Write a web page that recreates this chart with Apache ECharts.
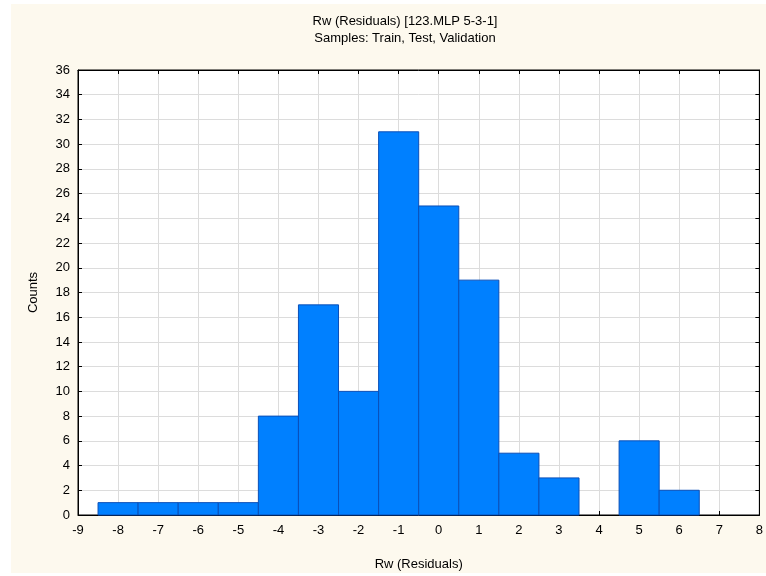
<!DOCTYPE html>
<html><head><meta charset="utf-8">
<script src="https://cdn.jsdelivr.net/npm/echarts@6/dist/echarts.min.js"></script>
<style>html,body{margin:0;padding:0;background:#fff}#c{width:766px;height:576px}</style>
</head><body><div id="c"></div>
<script>
const binCenters = [-8,-7,-6,-5,-4,-3,-2,-1,0,1,2,3,4,5,6,7];
const counts = [1,1,1,1,8,17,10,31,25,19,5,3,0,6,2,0];
const titleLines = ['Rw (Residuals) [123.MLP 5-3-1]', 'Samples: Train, Test, Validation'];
const xName = 'Rw (Residuals)';
const yName = 'Counts';
const binWidth = 1;

const chart = echarts.init(document.getElementById('c'), null, {renderer:'canvas'});
const font = 'Liberation Sans, Arial, sans-serif';
const axisCommon = {
  axisLine:{show:true, onZero:false, lineStyle:{color:'#000', width:1}},
  axisTick:{show:true, inside:true, length:4, lineStyle:{color:'#000'}},
};
chart.setOption({
  animation:false,
  backgroundColor:'#fff',
  graphic:[{type:'rect', z:-10, shape:{x:11,y:4,width:755,height:569}, style:{fill:'#fdf9ee'}}],
  title:{text:titleLines.join('\n'), left:400, textAlign:'center', top:8,
    textStyle:{fontFamily:font, fontSize:13, fontWeight:'normal', color:'#000', lineHeight:17}},
  grid:{left:78, right:3, top:70, bottom:61, show:true, backgroundColor:'#fff', borderColor:'#000', borderWidth:1},
  xAxis:[
    Object.assign({type:'value', min:-9, max:8, interval:1, position:'bottom',
      name:xName, nameLocation:'middle', nameGap:43,
      nameTextStyle:{fontFamily:font, fontSize:13, color:'#000'},
      axisLabel:{fontFamily:font, fontSize:13, color:'#000', margin:9},
      splitLine:{show:true, lineStyle:{color:'#dcdcdc', width:1}}}, axisCommon),
    Object.assign({type:'value', min:-9, max:8, interval:1, position:'top',
      axisLabel:{show:false}, splitLine:{show:false}}, axisCommon)
  ],
  yAxis:[
    Object.assign({type:'value', min:0, max:36, interval:2, position:'left',
      name:yName, nameLocation:'middle', nameGap:38, nameRotate:90,
      nameTextStyle:{fontFamily:font, fontSize:13, color:'#000'},
      axisLabel:{fontFamily:font, fontSize:13, color:'#000', margin:8},
      splitLine:{show:true, lineStyle:{color:'#dcdcdc', width:1}}}, axisCommon),
    Object.assign({type:'value', min:0, max:36, interval:2, position:'right',
      axisLabel:{show:false}, splitLine:{show:false}}, axisCommon)
  ],
  series:[{
    type:'custom',
    data: binCenters.map((c,i)=>[c, counts[i]]),
    renderItem:function(params, api){
      const x = api.value(0), y = api.value(1);
      if (!y) return null;
      const p0 = api.coord([x - binWidth/2, y]);
      const p1 = api.coord([x + binWidth/2, 0]);
      return {type:'rect', shape:{x:p0[0], y:p0[1], width:p1[0]-p0[0], height:p1[1]-p0[1]},
        style:{fill:'#0080ff', stroke:'#0a4fb8', lineWidth:1}};
    },
    encode:{x:0, y:1}
  }]
});
</script></body></html>
